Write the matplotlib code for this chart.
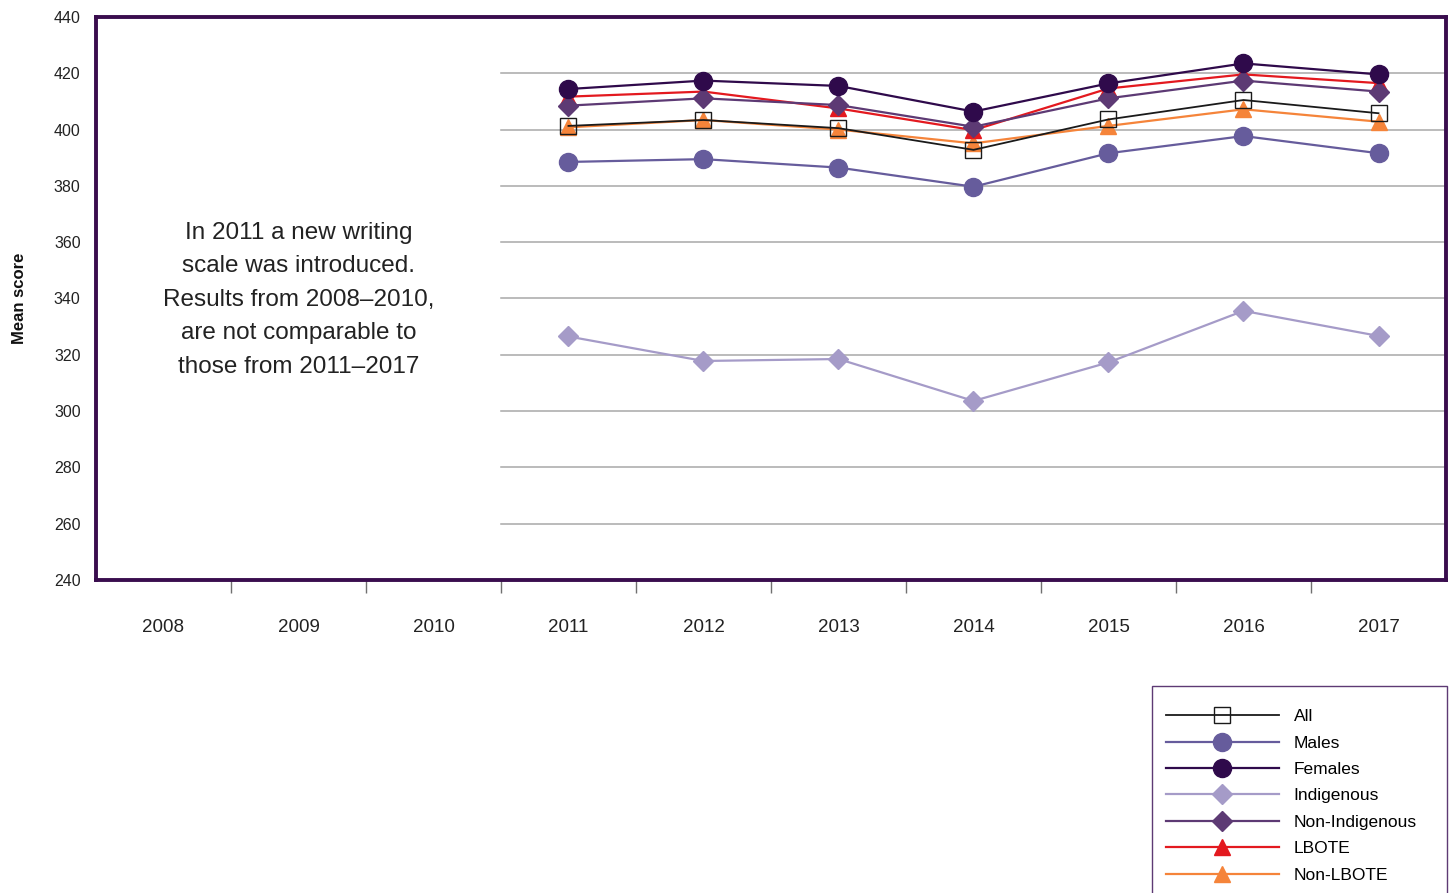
import numpy as np
import matplotlib
matplotlib.use("Agg")
import matplotlib.pyplot as plt
from matplotlib.patches import Rectangle

plt.rcParams['font.family'] = ['Liberation Sans', 'DejaVu Sans']

years = ['2008', '2009', '2010', '2011', '2012', '2013', '2014', '2015', '2016', '2017']
data_years = ['2011', '2012', '2013', '2014', '2015', '2016', '2017']

all_scores = [401.3, 403.4, 400.5, 392.8, 403.6, 410.5, 405.8]
males = [388.5, 389.5, 386.5, 379.7, 391.6, 397.7, 391.6]
females = [414.4, 417.4, 415.5, 406.4, 416.4, 423.5, 419.6]
indigenous = [326.5, 317.8, 318.5, 303.6, 317.3, 335.6, 326.7]
non_indigenous = [408.5, 411.1, 408.7, 401.0, 411.1, 417.4, 413.5]
lbote = [411.7, 413.5, 407.5, 399.8, 414.6, 419.6, 416.5]
non_lbote = [400.8, 403.4, 400.0, 395.1, 401.3, 407.2, 402.8]

frame_col = '#3a0d4e'

fig = plt.figure(figsize=(14.54, 8.93), dpi=100)
ax = fig.add_axes([0.066, 0.3505, 0.9285, 0.6305])

x_all = np.arange(len(years))
x = np.array([years.index(y) for y in data_years])

# gridlines only over the new-scale years
for v in range(260, 440, 20):
    ax.plot([2.5, 9.5], [v, v], color='#a8a8a8', lw=1.1, zorder=1)

# drawn bottom-up so the legend's first entries end on top
series = [
    ('Non-LBOTE', non_lbote, '#f5843a', '^', 12, '#f5843a', 1.6),
    ('LBOTE', lbote, '#e3191f', '^', 12, '#e3191f', 1.6),
    ('Non-Indigenous', non_indigenous, '#5d3a74', 'D', 10, '#5d3a74', 1.6),
    ('Indigenous', indigenous, '#a59bc8', 'D', 10, '#a59bc8', 1.6),
    ('Females', females, '#2f0a4b', 'o', 13, '#2f0a4b', 1.6),
    ('Males', males, '#665c9c', 'o', 13, '#665c9c', 1.6),
    ('All', all_scores, '#1a1a1a', 's', 11, 'none', 1.3),
]
handles = {}
for i, (name, vals, col, mk, ms, mfc, lw) in enumerate(series):
    h, = ax.plot(x, vals, color=col, lw=lw, marker=mk, markersize=ms,
                 markerfacecolor=mfc, markeredgecolor=col,
                 markeredgewidth=1.0, zorder=3 + i, label=name)
    handles[name] = h

ax.set_xlim(-0.5, 9.5)
ax.set_ylim(240, 440)
ax.set_yticks(range(240, 441, 20))
ax.set_xticks(x_all)
ax.set_xticklabels(years)
ax.set_xticks(np.arange(0.5, 9, 1), minor=True)
ax.tick_params(axis='x', which='major', length=0, pad=28, labelsize=13.5, colors='#222222')
ax.tick_params(axis='x', which='minor', length=9, width=1, color='#707070', direction='out')
ax.tick_params(axis='y', length=0, pad=11, labelsize=11.5, colors='#222222')

for s in ax.spines.values():
    s.set_color(frame_col)
    s.set_linewidth(2.8)

ax.set_ylabel('Mean score', fontsize=12, fontweight='bold', labelpad=19, color='#111111')

ax.text(1.0, 339.5, 'In 2011 a new writing\nscale was introduced.\nResults from 2008\u20132010,\nare not comparable to\nthose from 2011\u20132017',
        ha='center', va='center', fontsize=17.5, linespacing=1.68, color='#222222')

# legend box runs off the bottom edge
fig.patches.append(Rectangle((1152 / 1454, -0.05), (1447 - 1152) / 1454, 0.05 + (893 - 686) / 893,
                             transform=fig.transFigure, fill=False,
                             edgecolor='#5d3a74', linewidth=1.0))

order = ['All', 'Males', 'Females', 'Indigenous', 'Non-Indigenous', 'LBOTE', 'Non-LBOTE']
leg = fig.legend([handles[n] for n in order], order, loc='upper left',
                 bbox_to_anchor=(1166 / 1454, 1 - 709 / 893), fontsize=12.5, frameon=False,
                 handlelength=6.5, handletextpad=0.85,
                 labelspacing=0.65, borderpad=0, borderaxespad=0)

fig.savefig('out.png', dpi=100)
